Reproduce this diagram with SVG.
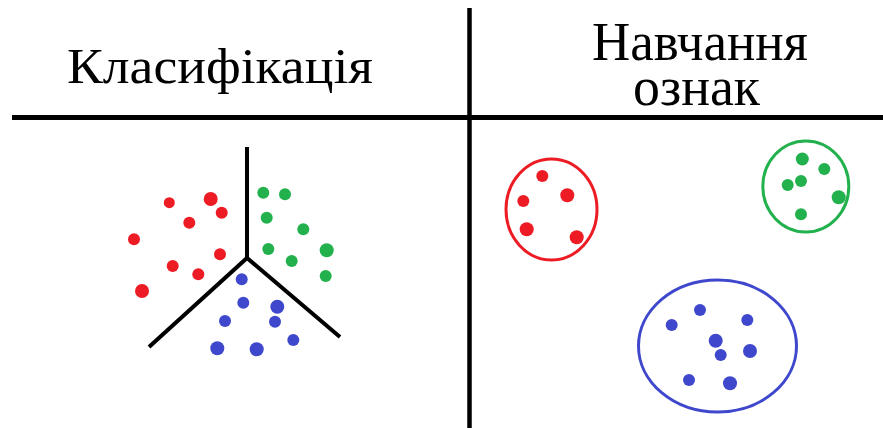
<svg xmlns="http://www.w3.org/2000/svg" width="883" height="428" viewBox="0 0 883 428">
<style>
.t{font-family:"Liberation Serif","Times New Roman",serif;fill:#000}
.ln{stroke:#000;fill:none}
.r{fill:#ED1C24}
.g{fill:#22B14C}
.b{fill:#3F48CC}
.er{fill:none;stroke:#ED1C24;stroke-width:3}
.eg{fill:none;stroke:#22B14C;stroke-width:3}
.eb{fill:none;stroke:#3F48CC;stroke-width:3}
</style>
<rect width="883" height="428" fill="#fff"/>
<g id="table-lines">
<line class="ln" x1="12" y1="117.5" x2="883" y2="117.5" stroke-width="5"/>
<line class="ln" x1="469.5" y1="8" x2="469.5" y2="428" stroke-width="4.5"/>
</g>
<g id="header-classification">
<text class="t" x="67" y="83" font-size="51" textLength="306" lengthAdjust="spacingAndGlyphs">Класифікація</text>
</g>
<g id="header-feature-learning" transform="scale(1,1.35)">
<text class="t" x="592" y="44.44" font-size="40" textLength="216" lengthAdjust="spacingAndGlyphs">Навчання</text>
<text class="t" x="633" y="77.78" font-size="40" textLength="127" lengthAdjust="spacingAndGlyphs">ознак</text>
</g>
<g id="classification-boundaries">
<polyline class="ln" stroke-width="4" points="247,147 247,258"/>
<polyline class="ln" stroke-width="4" points="149,347 247,258 340,337"/>
</g>
<g id="classification-red">
<circle class="r" cx="169.3" cy="202.7" r="5.5"/>
<circle class="r" cx="210.7" cy="199" r="7"/>
<circle class="r" cx="221.7" cy="212.7" r="6"/>
<circle class="r" cx="189.3" cy="222.7" r="6"/>
<circle class="r" cx="134" cy="239.3" r="6"/>
<circle class="r" cx="220" cy="254.3" r="6"/>
<circle class="r" cx="172.7" cy="266" r="6"/>
<circle class="r" cx="198.3" cy="274.3" r="6"/>
<circle class="r" cx="142" cy="291" r="7"/>
</g>
<g id="classification-green">
<circle class="g" cx="263.3" cy="192.7" r="6"/>
<circle class="g" cx="285" cy="194.3" r="6"/>
<circle class="g" cx="266.7" cy="217.7" r="6"/>
<circle class="g" cx="303.3" cy="229.3" r="6"/>
<circle class="g" cx="268.3" cy="249" r="6"/>
<circle class="g" cx="326.7" cy="250.3" r="7"/>
<circle class="g" cx="291.7" cy="261" r="6"/>
<circle class="g" cx="325.7" cy="276" r="6"/>
</g>
<g id="classification-blue">
<circle class="b" cx="241.7" cy="279.3" r="6"/>
<circle class="b" cx="243.3" cy="302.7" r="6"/>
<circle class="b" cx="277.3" cy="306.7" r="7"/>
<circle class="b" cx="225" cy="321" r="6"/>
<circle class="b" cx="275" cy="321.7" r="6"/>
<circle class="b" cx="293.3" cy="340" r="6"/>
<circle class="b" cx="217.3" cy="348.3" r="7"/>
<circle class="b" cx="256.7" cy="349.3" r="7"/>
</g>
<g id="cluster-red">
<ellipse class="er" cx="551.5" cy="209.5" rx="45.5" ry="50.5"/>
<circle class="r" cx="542.3" cy="176" r="6"/>
<circle class="r" cx="567.3" cy="195.3" r="7"/>
<circle class="r" cx="523.3" cy="201" r="6"/>
<circle class="r" cx="526.7" cy="229.3" r="7"/>
<circle class="r" cx="576.7" cy="237.3" r="7"/>
</g>
<g id="cluster-green">
<ellipse class="eg" cx="805.8" cy="186.5" rx="43" ry="45.5"/>
<circle class="g" cx="802.3" cy="159" r="6.5"/>
<circle class="g" cx="824.3" cy="169" r="6"/>
<circle class="g" cx="787.7" cy="185" r="6"/>
<circle class="g" cx="801" cy="181" r="6"/>
<circle class="g" cx="838.7" cy="197.3" r="7"/>
<circle class="g" cx="801" cy="214.3" r="6"/>
</g>
<g id="cluster-blue">
<ellipse class="eb" cx="717.5" cy="346" rx="79" ry="66"/>
<circle class="b" cx="700" cy="310" r="6"/>
<circle class="b" cx="671.7" cy="325" r="6"/>
<circle class="b" cx="747.3" cy="320" r="6"/>
<circle class="b" cx="715.7" cy="340.7" r="7"/>
<circle class="b" cx="720.7" cy="355" r="6"/>
<circle class="b" cx="750" cy="351" r="7"/>
<circle class="b" cx="689" cy="380" r="6"/>
<circle class="b" cx="730" cy="383.3" r="7"/>
</g>
</svg>
